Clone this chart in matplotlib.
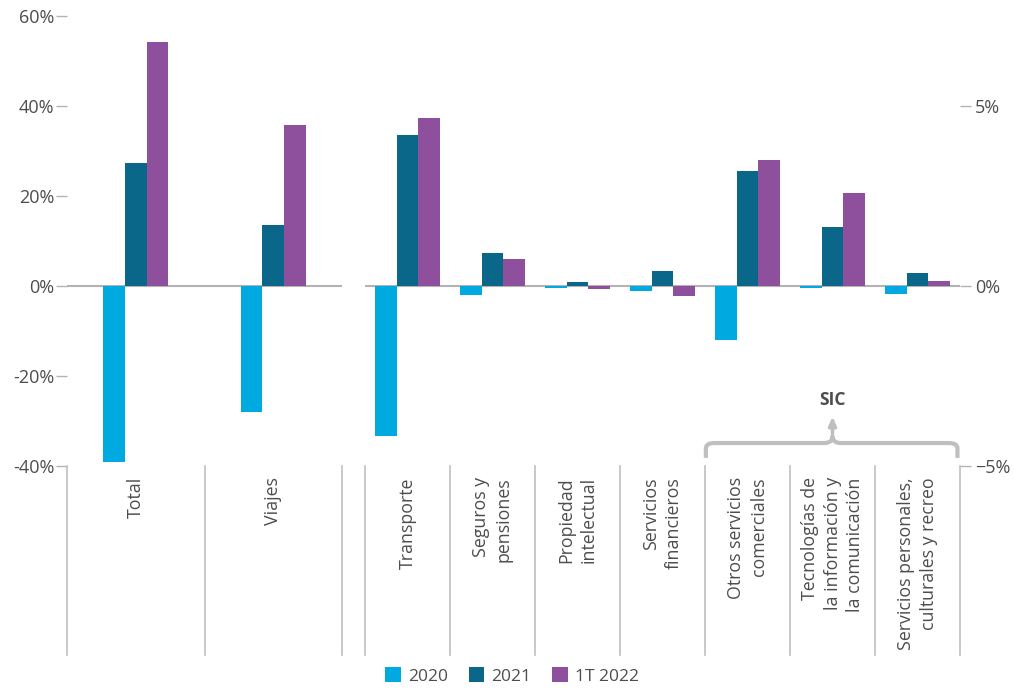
import numpy as np
import matplotlib
matplotlib.use("Agg")
import matplotlib.pyplot as plt
import matplotlib.transforms as mtransforms
from matplotlib.path import Path
from matplotlib.patches import PathPatch, Patch

plt.rcParams['font.family'] = ['Open Sans', 'DejaVu Sans']

# Series (left panel on the -40..60% scale, right panel on the -5..7.5% scale)
series = ['2020', '2021', '1T 2022']
colors = ['#00a9e0', '#0b6789', '#8e509c']

left_cats = ['Total', 'Viajes']
left_vals = [
    [-39.0, -28.0],     # 2020
    [27.3, 13.6],       # 2021
    [54.2, 35.8],       # 1T 2022
]

right_cats = ['Transporte', 'Seguros y\npensiones', 'Propiedad\nintelectual',
              'Servicios\nfinancieros', 'Otros servicios\ncomerciales',
              'Tecnologías de\nla información y\nla comunicación',
              'Servicios personales,\nculturales y recreo']
right_vals = [
    [-4.17, -0.25, -0.06, -0.13, -1.50, -0.06, -0.21],   # 2020
    [4.19, 0.92, 0.11, 0.43, 3.20, 1.65, 0.37],          # 2021
    [4.67, 0.75, -0.07, -0.27, 3.49, 2.57, 0.15],        # 1T 2022
]

left_ticks = [-40, -20, 0, 20, 40, 60]
left_ticklabels = ['-40%', '-20%', '0%', '20%', '40%', '60%']
right_ticks = [-5, 0, 5]
right_ticklabels = ['\u22125%', '0%', '5%']

W, H = 1014, 692
fig = plt.figure(figsize=(W / 100, H / 100), dpi=100)

def px_axes(x0, x1, ytop, ybot):
    return fig.add_axes([x0 / W, 1 - ybot / H, (x1 - x0) / W, (ybot - ytop) / H])

axl = px_axes(67, 342, 16, 466)
axr = px_axes(365, 960, 16, 466)

grey = '#b3b3b3'
txt = '#4d4d4d'
sep_depth = (655 - 466) / 450


def draw_panel(ax, cats, vals, width, ylim, ticks, ticklabels, side):
    x = np.arange(len(cats))
    for i, (s, c) in enumerate(zip(series, colors)):
        ax.bar(x + (i - 1) * width, vals[i], width, color=c, label=s, zorder=2)
    ax.set_xlim(-0.5, len(cats) - 0.5)
    ax.set_ylim(*ylim)
    for sp in ax.spines.values():
        sp.set_visible(False)
    ax.set_xticks([])
    ax.set_yticks(ticks)
    ax.set_yticklabels(ticklabels)
    ax.tick_params(axis='y', length=8, width=1, color=grey, labelcolor=txt,
                   labelsize=13, pad=1)
    if side == 'right':
        ax.yaxis.tick_right()
        ax.tick_params(axis='y', length=8, width=1, color=grey, labelcolor=txt,
                       labelsize=13, pad=3)
    ax.axhline(0, color=grey, lw=1.5, zorder=1)
    trans = mtransforms.blended_transform_factory(ax.transData, ax.transAxes)
    # vertical separators under the plot area
    for b in np.arange(len(cats) + 1) - 0.5:
        ax.plot([b, b], [0, -sep_depth], color='#bfbfbf', lw=1.2,
                transform=trans, clip_on=False)
    for xi, lab in zip(x, cats):
        ax.text(xi, -0.025, lab, rotation=90, ha='center', va='top',
                multialignment='right', fontsize=12.8, color=txt,
                linespacing=1.3, transform=trans)
    return trans


draw_panel(axl, left_cats, left_vals, 0.157, (-40, 60),
           left_ticks, left_ticklabels, 'left')
tr = draw_panel(axr, right_cats, right_vals, 0.253, (-5, 7.5),
                right_ticks, right_ticklabels, 'right')

# bracket grouping the SIC categories
x0, x1, xm = 3.51, 6.47, 5.0
yb, yt, yp = 0.018, 0.051, 0.066
verts = [(x0, yb), (x0, yt - 0.012), (x0, yt), (x0 + 0.1, yt),
         (xm - 0.1, yt), (xm, yt), (xm, yp),
         (xm, yt), (xm + 0.1, yt),
         (x1 - 0.1, yt), (x1, yt), (x1, yt - 0.012), (x1, yb)]
codes = [Path.MOVETO, Path.LINETO, Path.CURVE3, Path.CURVE3,
         Path.LINETO, Path.CURVE3, Path.CURVE3,
         Path.CURVE3, Path.CURVE3,
         Path.LINETO, Path.CURVE3, Path.CURVE3, Path.LINETO]
axr.add_patch(PathPatch(Path(verts, codes), fill=False, edgecolor='#bfbfbf',
                        lw=3, transform=tr, clip_on=False, capstyle='butt'))
axr.annotate('', xy=(xm, 0.110), xytext=(xm, yp - 0.005), xycoords=tr, textcoords=tr,
             arrowprops=dict(arrowstyle='-|>,head_length=0.5,head_width=0.22',
                             color='#bfbfbf', lw=2.5, shrinkA=0, shrinkB=0),
             annotation_clip=False)
axr.text(xm, 0.147, 'SIC', ha='center', va='center', fontsize=12.5,
         fontweight='bold', color=txt, transform=tr)

handles = [Patch(facecolor=c, label=s) for s, c in zip(series, colors)]
fig.legend(handles=handles, loc='lower center', bbox_to_anchor=(0.505, -0.012),
           ncol=3, frameon=False, fontsize=12.5, handlelength=0.9, handleheight=0.9,
           handletextpad=0.4, columnspacing=1.2, labelcolor=txt)

fig.savefig('out.png', dpi=100)
